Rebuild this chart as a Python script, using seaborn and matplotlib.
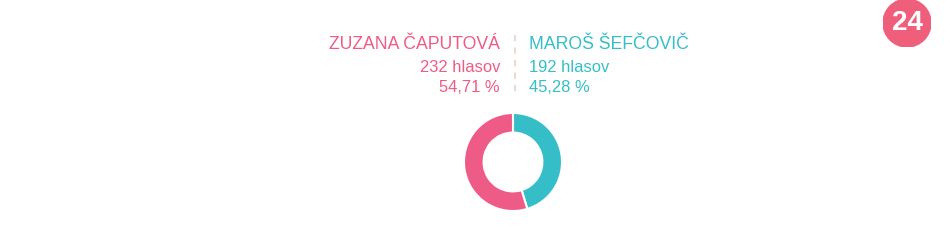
import matplotlib
matplotlib.use("Agg")
import matplotlib.pyplot as plt
import seaborn as sns
from matplotlib.patches import Circle
from matplotlib.lines import Line2D

sns.set_style("white")
plt.rcParams['font.family'] = ['Liberation Sans', 'DejaVu Sans']

candidates = ["ZUZANA ČAPUTOVÁ", "MAROŠ ŠEFČOVIČ"]
votes = [232, 192]
percents = ["54,71 %", "45,28 %"]
colors = ["#ee5b86", "#35bec7"]

W, H = 950, 250
fig = plt.figure(figsize=(9.5, 2.5), dpi=100)
fig.patch.set_facecolor("white")

def fx(x): return x / W
def fy(y): return 1 - y / H

# donut
cx, cy, r = 513, 162, 50
ax = fig.add_axes([fx(cx - r), fy(cy + r), 2 * r / W, 2 * r / H])
ax.pie([votes[1], votes[0]], colors=[colors[1], colors[0]], startangle=90,
       counterclock=False, radius=1.0,
       wedgeprops=dict(width=0.4, edgecolor="white", linewidth=1.5))
ax.set_xlim(-1.02, 1.02)
ax.set_ylim(-1.02, 1.02)
ax.set_aspect("equal")
ax.axis("off")

# texts
fig.text(fx(500), fy(45), candidates[0], ha="right", va="center", fontsize=12.7, color=colors[0])
fig.text(fx(529), fy(45), candidates[1], ha="left", va="center", fontsize=12.7, color=colors[1])
fig.text(fx(500), fy(68), f"{votes[0]} hlasov", ha="right", va="center", fontsize=11.9, color=colors[0])
fig.text(fx(529), fy(68), f"{votes[1]} hlasov", ha="left", va="center", fontsize=11.9, color=colors[1])
fig.text(fx(500), fy(87), percents[0], ha="right", va="center", fontsize=11.9, color=colors[0])
fig.text(fx(529), fy(87), percents[1], ha="left", va="center", fontsize=11.9, color=colors[1])

# divider
fig.add_artist(Line2D([fx(515), fx(515)], [fy(35), fy(95)], color="#eadcd2",
                      linewidth=1.5, linestyle=(0, (3, 3)), transform=fig.transFigure))

# logo
lax = fig.add_axes([fx(883), fy(47), 48 / W, 48 / H])
lax.set_xlim(-1, 1); lax.set_ylim(-1, 1); lax.set_aspect("equal"); lax.axis("off")
lax.add_patch(Circle((0, 0), 1, color="#ef5f7c"))
lax.text(0, -0.02, "24", ha="center", va="center", fontsize=20, fontweight="bold",
         color="white")

fig.savefig("out.png", dpi=100, facecolor="white")
